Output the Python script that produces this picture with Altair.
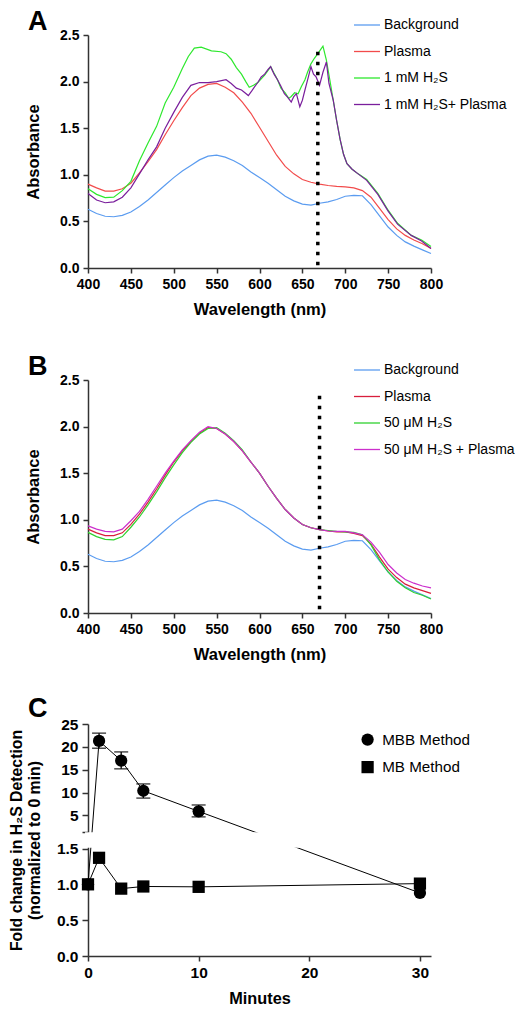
import altair as alt
import pandas as pd

FONT = "Liberation Sans"

# ---------------- Panel A : 1 mM H2S ----------------
A_NM = list(range(400, 801, 10))
A_BACKGROUND = [0.63, 0.585, 0.555, 0.55, 0.565, 0.60, 0.66, 0.73, 0.81, 0.89,
                0.97, 1.04, 1.10, 1.16, 1.20, 1.21, 1.19, 1.15, 1.10, 1.03,
                0.97, 0.91, 0.84, 0.77, 0.72, 0.685, 0.675, 0.695, 0.71, 0.735,
                0.77, 0.78, 0.775, 0.68, 0.56, 0.44, 0.35, 0.28, 0.235, 0.195, 0.155]
A_PLASMA = [0.90, 0.86, 0.825, 0.825, 0.85, 0.91, 1.02, 1.14, 1.27, 1.43,
            1.58, 1.72, 1.85, 1.93, 1.97, 1.98, 1.94, 1.88, 1.78, 1.66,
            1.51, 1.36, 1.21, 1.09, 1.01, 0.95, 0.92, 0.90, 0.885, 0.875,
            0.87, 0.86, 0.83, 0.76, 0.64, 0.52, 0.42, 0.35, 0.30, 0.26, 0.21]
A_H2S_NM = [400, 410, 420, 430, 440, 450, 460, 470, 480, 490,
            500, 510, 517, 524, 532, 544, 555, 561, 567, 573,
            579, 584, 588, 593, 598, 602, 606, 610, 613, 617,
            621, 625, 630, 634, 637, 641, 645, 649, 653, 656,
            660, 664, 668, 671, 674, 678, 682, 686, 690, 694,
            698, 702, 708, 715, 725, 738, 750, 761, 777, 789, 800]
A_H2S = [0.85, 0.79, 0.756, 0.76, 0.83, 0.93, 1.15, 1.34, 1.52, 1.77,
         1.94, 2.14, 2.27, 2.36, 2.37, 2.33, 2.32, 2.30, 2.24, 2.15,
         2.08, 2.00, 1.94, 1.96, 1.99, 2.03, 2.07, 2.12, 2.16, 2.09,
         2.02, 1.93, 1.88, 1.82, 1.84, 1.88, 1.87, 1.95, 2.02, 2.10,
         2.19, 2.25, 2.30, 2.34, 2.38, 2.23, 2.02, 1.80, 1.58, 1.38,
         1.22, 1.12, 1.06, 1.01, 0.95, 0.80, 0.62, 0.48, 0.35, 0.30, 0.23]
A_MIX_NM = [400, 410, 420, 430, 440, 450, 460, 470, 480, 490,
            500, 510, 520, 530, 540, 550, 561, 567, 573, 579,
            583, 587, 591, 594, 598, 602, 606, 610, 613, 617,
            621, 625, 629, 633, 637, 640, 643, 647, 650, 653,
            657, 660, 663, 666, 670, 674, 678, 681, 686, 690,
            694, 698, 702, 708, 715, 725, 738, 750, 761, 777, 789, 800]
A_MIX = [0.80, 0.73, 0.70, 0.71, 0.76, 0.86, 1.01, 1.16, 1.30, 1.50,
         1.67, 1.83, 1.96, 1.99, 1.99, 2.00, 2.02, 1.98, 1.93, 1.91,
         1.88, 1.85, 1.90, 1.94, 1.99, 2.05, 2.08, 2.13, 2.16, 2.08,
         2.02, 1.95, 1.87, 1.83, 1.78, 1.84, 1.87, 1.73, 1.80, 1.91,
         2.05, 2.16, 2.08, 2.05, 1.96, 2.10, 2.21, 1.98, 1.80, 1.58,
         1.38, 1.22, 1.12, 1.06, 1.01, 0.94, 0.79, 0.61, 0.47, 0.35, 0.29, 0.21]
A_LABELS = ["Background", "Plasma", "1 mM H\u2082S", "1 mM H\u2082S+ Plasma"]
A_COLORS = ["#5b9cf0", "#f24b4b", "#2ee82e", "#7a1e9c"]
A_DOT_NM, A_DOT_LO, A_DOT_HI = 668, 0.03, 2.36

# ---------------- Panel B : 50 uM H2S ----------------
B_NM = list(range(400, 801, 10))
B_BACKGROUND = list(A_BACKGROUND)
B_PLASMA = [0.90, 0.86, 0.83, 0.83, 0.86, 0.95, 1.06, 1.19, 1.33, 1.48,
            1.62, 1.74, 1.84, 1.93, 1.99, 1.98, 1.92, 1.84, 1.74, 1.62,
            1.50, 1.36, 1.23, 1.11, 1.02, 0.95, 0.915, 0.895, 0.88, 0.87,
            0.87, 0.855, 0.83, 0.74, 0.60, 0.47, 0.38, 0.31, 0.27, 0.24, 0.21]
B_H2S = [0.865, 0.82, 0.79, 0.785, 0.82, 0.92, 1.03, 1.16, 1.30, 1.45,
         1.59, 1.72, 1.83, 1.92, 1.98, 1.99, 1.93, 1.85, 1.75, 1.62,
         1.50, 1.36, 1.23, 1.11, 1.02, 0.95, 0.915, 0.895, 0.885, 0.875,
         0.87, 0.865, 0.84, 0.73, 0.57, 0.44, 0.34, 0.27, 0.22, 0.19, 0.15]
B_MIX = [0.935, 0.90, 0.875, 0.87, 0.90, 0.99, 1.09, 1.22, 1.36, 1.50,
         1.63, 1.75, 1.85, 1.94, 2.00, 1.98, 1.92, 1.84, 1.74, 1.62,
         1.50, 1.36, 1.23, 1.11, 1.02, 0.95, 0.915, 0.895, 0.88, 0.875,
         0.875, 0.86, 0.84, 0.76, 0.65, 0.52, 0.43, 0.36, 0.32, 0.29, 0.27]
B_LABELS = ["Background", "Plasma", "50 \u03bcM H\u2082S", "50 \u03bcM H\u2082S + Plasma"]
B_COLORS = ["#5b9cf0", "#d81e3c", "#2fd12f", "#cc2fcc"]
B_DOT_NM, B_DOT_LO, B_DOT_HI = 670, 0.04, 2.40

X_TICKS = list(range(400, 801, 50))
Y_TICKS = [0.0, 0.5, 1.0, 1.5, 2.0, 2.5]

# ---------------- Panel C : time course ----------------
C_MIN = [0, 1, 3, 5, 10, 30]
C_MBB = [1.0, 21.3, 17.0, 10.4, 5.9, 0.88]
C_MB = [1.0, 1.37, 0.94, 0.97, 0.965, 1.01]
C_ERR_MIN = [1, 3, 5, 10]
C_ERR_LO = [19.7, 15.2, 8.8, 4.7]
C_ERR_HI = [23.0, 18.9, 11.9, 7.3]
C_METHODS = ["MBB Method", "MB Method"]
C_LOWER_TICKS = [0.0, 0.5, 1.0, 1.5]
C_UPPER_TICKS = [5, 10, 15, 20, 25]
C_X_TICKS = [0, 10, 20, 30]
# broken axis: lower segment 0-1.5, upper segment 1.5-25
C_BREAK, C_TOP = 1.5, 25.0
C_LOWER_PX, C_GAP_PX, C_UPPER_PX = 107.5, 17.0, 107.5

W, H = 343, 233
C_H = C_LOWER_PX + C_GAP_PX + C_UPPER_PX


def spectra_df(labels, xs_list, ys_list):
    rows = []
    for k, (lab, xs, ys) in enumerate(zip(labels, xs_list, ys_list)):
        for i, (x, y) in enumerate(zip(xs, ys)):
            rows.append({"series": lab, "nm": x, "absorb": y, "order": i, "k": k})
    return pd.DataFrame(rows)


def spectrum_panel(df, labels, colors, dot_nm, dot_lo, dot_hi, letter):
    x = alt.X("nm:Q", scale=alt.Scale(domain=[400, 800], nice=False),
              axis=alt.Axis(values=X_TICKS, format="d", title="Wavelength (nm)"))
    y = alt.Y("absorb:Q", scale=alt.Scale(domain=[0, 2.5], nice=False),
              axis=alt.Axis(values=Y_TICKS, format=".1f", title="Absorbance", titlePadding=18))
    lines = alt.Chart(df).mark_line(strokeWidth=1.2).encode(
        x=x, y=y,
        color=alt.Color("series:N", sort=labels,
                        scale=alt.Scale(domain=labels, range=colors),
                        legend=alt.Legend(title=None, orient="none", legendX=265, legendY=-24,
                                          symbolType="stroke", symbolSize=676,
                                          symbolStrokeWidth=1.3, labelFontSize=14,
                                          labelFont=FONT, labelFontWeight="normal",
                                          rowPadding=5.5, labelOffset=3, padding=0)),
        detail="k:N",
        order="order:Q",
    )
    dot_df = pd.DataFrame({"nm": [dot_nm], "lo": [dot_lo], "hi": [dot_hi]})
    dot = alt.Chart(dot_df).mark_rule(color="black", strokeWidth=3.5,
                                      strokeDash=[3.5, 6.5]).encode(
        x="nm:Q", y="lo:Q", y2="hi:Q")
    return alt.layer(lines, dot).properties(
        width=W, height=H,
        title=alt.TitleParams(letter, anchor="start", frame="group", dx=-60,
                              fontSize=27, font=FONT, fontWeight="bold", offset=-25))


def c_t(v, upper):
    if not upper:
        return v / C_BREAK * C_LOWER_PX
    return C_LOWER_PX + C_GAP_PX + (v - C_BREAK) / (C_TOP - C_BREAK) * C_UPPER_PX


def c_tv(v):
    return c_t(v, v > C_BREAK)


dfA = spectra_df(A_LABELS, [A_NM, A_NM, A_H2S_NM, A_MIX_NM],
                 [A_BACKGROUND, A_PLASMA, A_H2S, A_MIX])
dfB = spectra_df(B_LABELS, [B_NM, B_NM, B_NM, B_NM],
                 [B_BACKGROUND, B_PLASMA, B_H2S, B_MIX])

chartA = spectrum_panel(dfA, A_LABELS, A_COLORS, A_DOT_NM, A_DOT_LO, A_DOT_HI, "A")
chartB = spectrum_panel(dfB, B_LABELS, B_COLORS, B_DOT_NM, B_DOT_LO, B_DOT_HI, "B")

# ---- Panel C data ----
rows = []
for m, vals in zip(C_METHODS, [C_MBB, C_MB]):
    for i, (t, v) in enumerate(zip(C_MIN, vals)):
        rows.append({"method": m, "minute": t, "value": v, "ty": c_tv(v), "order": i})
dfC = pd.DataFrame(rows)
dfE = pd.DataFrame({"minute": C_ERR_MIN,
                    "lo": [c_tv(v) for v in C_ERR_LO],
                    "hi": [c_tv(v) for v in C_ERR_HI]})

# lower-segment ticks, a bare tick at the foot of the upper segment, upper ticks
tick_pos = [c_t(v, False) for v in C_LOWER_TICKS] + [c_t(C_BREAK, True)] + \
           [c_t(v, True) for v in C_UPPER_TICKS]
tick_txt = ["%.1f" % v for v in C_LOWER_TICKS] + [""] + ["%d" % v for v in C_UPPER_TICKS]
expr = "''"
for p, s in reversed(list(zip(tick_pos, tick_txt))):
    expr = "(abs(datum.value - %.3f) < 0.5) ? '%s' : (%s)" % (p, s, expr)

xC = alt.X("minute:Q", scale=alt.Scale(domain=[0, 31], nice=False),
           axis=alt.Axis(values=C_X_TICKS, format="d", title="Minutes",
                         labelFontSize=15.5, titleFontSize=16.3, labelFlush=False))
yC = alt.Y("ty:Q", scale=alt.Scale(domain=[0, C_H], nice=False),
           axis=alt.Axis(values=tick_pos, tickCount=40, labelExpr=expr, labelFontSize=15.5,
                         labelOverlap=False, labelFlush=False,
                         title=["Fold change in H\u2082S Detection", "(normalized to 0 min)"],
                         titleFontSize=15.8, titleLineHeight=17.5, titlePadding=14,
                         tickSize=6))

c_lines = alt.Chart(dfC).mark_line(color="black", strokeWidth=1).encode(
    x=xC, y=yC, detail="method:N", order="order:Q")
c_err = alt.Chart(dfE).mark_rule(color="black", strokeWidth=1.3).encode(
    x="minute:Q", y="lo:Q", y2="hi:Q")
c_cap_lo = alt.Chart(dfE).mark_tick(color="black", orient="horizontal", size=14,
                                    thickness=1.5).encode(x="minute:Q", y="lo:Q")
c_cap_hi = alt.Chart(dfE).mark_tick(color="black", orient="horizontal", size=14,
                                    thickness=1.5).encode(x="minute:Q", y="hi:Q")
c_pts = alt.Chart(dfC).mark_point(filled=True, size=150, opacity=1, color="black").encode(
    x="minute:Q", y="ty:Q",
    shape=alt.Shape("method:N", sort=C_METHODS,
                    scale=alt.Scale(domain=C_METHODS, range=["circle", "square"]),
                    legend=alt.Legend(title=None, orient="none", legendX=272, legendY=8,
                                      symbolSize=150, symbolFillColor="black",
                                      symbolStrokeColor="black", labelFontSize=15.2,
                                      labelFont=FONT, labelFontWeight="normal",
                                      rowPadding=8.5, labelOffset=7, padding=0)))
gap_df = pd.DataFrame({"g0": [C_LOWER_PX + 0.8], "g1": [C_LOWER_PX + C_GAP_PX - 0.8]})
c_gap = alt.Chart(gap_df).mark_rect(color="white").encode(
    y="g0:Q", y2="g1:Q", x=alt.value(-3), x2=alt.value(W + 4))

chartC = alt.layer(c_lines, c_err, c_cap_lo, c_cap_hi, c_pts, c_gap).properties(
    width=W, height=C_H,
    title=alt.TitleParams("C", anchor="start", frame="group", dx=-60,
                          fontSize=27, font=FONT, fontWeight="bold", offset=-6))

top = alt.vconcat(chartA, chartB, spacing=35).resolve_scale(
    color="independent", x="independent", y="independent"
).resolve_legend(color="independent")

chart = alt.vconcat(top, chartC, spacing=32).resolve_scale(
    color="independent", shape="independent", x="independent", y="independent"
).resolve_legend(color="independent", shape="independent").properties(
    padding={"left": 0, "top": 0, "right": 0, "bottom": 0}
).configure_view(stroke=None).configure_axis(
    labelFont=FONT, titleFont=FONT, labelFontWeight="bold", titleFontWeight="bold",
    labelFontSize=14, titleFontSize=16.5, labelColor="black", titleColor="black",
    domainColor="#333333", domainWidth=1.5, tickColor="#333333", tickWidth=1.5,
    tickSize=5, grid=False, labelPadding=4, titlePadding=10,
    labelFlush=False, labelOverlap=False
).configure_legend(labelColor="black")

chart.save("out.html", embed_options={"renderer": "svg", "actions": False})
